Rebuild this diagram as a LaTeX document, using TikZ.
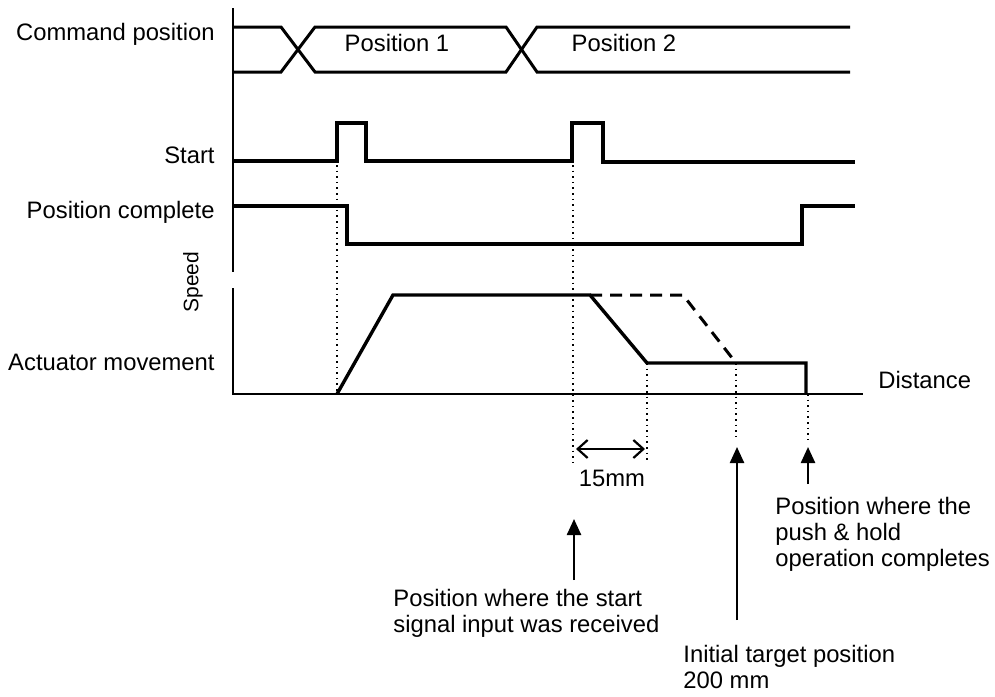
\documentclass[tikz,border=0pt]{standalone}
\usepackage{fontspec}
\setmainfont{Liberation Sans}
\usetikzlibrary{arrows.meta, positioning, calc}

\begin{document}
\begin{tikzpicture}[x=0.5pt, y=-0.5pt,
    signal/.style={line width=1.7pt, line join=miter},
    busline/.style={line width=1.5pt, line join=miter},
    axis/.style={line width=1pt},
    guide/.style={line width=0.8pt, dotted},
    lbl/.style={font=\fontsize{11.9}{13}\selectfont, inner sep=0pt},
    note/.style={lbl, align=left, anchor=north west},
    pointer/.style={line width=1.2pt, -{Triangle[length=8pt,width=7pt]}}]
  \useasboundingbox (0,0) rectangle (995,696);

  % signal names
  \node[lbl, anchor=east] (cmdlbl) at (215,34) {Command position};
  \node[lbl, anchor=east] (startlbl) at (215,155) {Start};
  \node[lbl, anchor=east] (pclbl) at (215,212) {Position complete};
  \node[lbl, anchor=east] (actlbl) at (215,362) {Actuator movement};
  \node[lbl, font=\fontsize{10.5}{12}\selectfont, rotate=90] (speedlbl) at (193,282) {Speed};
  \node[lbl, anchor=west] (distlbl) at (878,380) {Distance};

  % axes
  \draw[axis] (233,8) -- (233,272);
  \draw[axis] (233,288) -- (233,394) -- (863,394);

  % command position bus
  \draw[busline] (233,27) -- (281,27) -- (315,72) -- (506,72) -- (537,27) -- (850,27);
  \draw[busline] (233,72) -- (281,72) -- (315,27) -- (506,27) -- (537,72) -- (850,72);
  \node[lbl] (pos1) at (397,43) {Position 1};
  \node[lbl] (pos2) at (624,43) {Position 2};

  % start
  \draw[signal] (233,161) -- (337,161) -- (337,123) -- (366,123) -- (366,161)
    -- (572,161) -- (572,123) -- (603,123) -- (603,162) -- (855,162);

  % position complete
  \draw[signal] (233,206) -- (347,206) -- (347,244) -- (802,244) -- (802,206) -- (855,206);

  % speed profile
  \draw[signal] (337,394) -- (393,295) -- (590,295) -- (647,363) -- (806,363) -- (806,394);
  \draw[signal, line width=1.5pt, dash pattern=on 6pt off 4pt] (590,295) -- (683,295) -- (736,363);

  % guide lines
  \draw[guide] (337,165) -- (337,394);
  \draw[guide] (573,165) -- (573,462);
  \draw[guide] (647,363) -- (647,462);
  \draw[guide] (736,363) -- (736,440);
  \draw[guide] (808,394) -- (808,440);

  % 15 mm
  \coordinate (dl) at (576,449);
  \coordinate (dr) at (645,449);
  \draw[line width=1.1pt, {Straight Barb[length=5pt,width=9pt]}-{Straight Barb[length=5pt,width=9pt]}] (dl) -- (dr);
  \node[lbl] (mm) at (612,478) {15mm};

  % notes
  \node[note] (startnote) at (393,589) {Position where the start\\signal input was received};
  \node[note] (targetnote) at (683,645) {Initial target position\\200 mm};
  \node[note] (holdnote) at (775,497) {Position where the\\push \& hold\\operation completes};

  \coordinate (starttip) at (574,519);
  \coordinate (targettip) at (737,447);
  \coordinate (holdtip) at (808,447);
  \draw[pointer] (574,580) -- (starttip);
  \draw[pointer] (737,620) -- (targettip);
  \draw[pointer] (808,484) -- (holdtip);
\end{tikzpicture}
\end{document}
